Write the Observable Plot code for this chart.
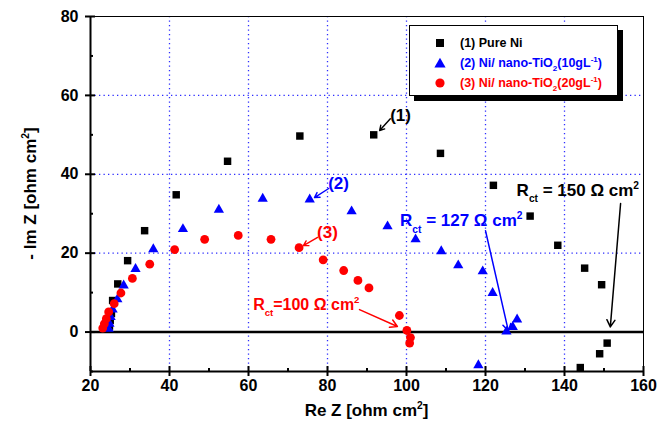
<!DOCTYPE html>
<html><head><meta charset="utf-8">
<script src="https://cdn.jsdelivr.net/npm/d3@7"></script>
<script src="https://cdn.jsdelivr.net/npm/@observablehq/plot@0.6"></script>
<style>
html,body{margin:0;padding:0;background:#fff;}
body{font-family:"Liberation Sans",Arial,sans-serif;}
#wrap{position:relative;width:667px;height:426px;overflow:hidden;}
#legend{position:absolute;left:409px;top:25px;width:207px;height:69px;border:1.3px solid #000;background:#fff;box-shadow:5px 5px 0 #000;font-weight:bold;font-size:12.5px;}
#legend .row{position:absolute;left:0;height:16px;display:flex;align-items:center;white-space:nowrap;}
#legend svg{position:absolute;left:23px;top:0;}
#legend span{position:absolute;left:50px;top:0;line-height:16px;}
#legend sub,#legend sup{font-size:8px;line-height:0;}
</style>
</head><body>
<div id="wrap"></div>
<script>
// ---- data (Nyquist plots) ----
const pureNiRe = [24.8,25.0,25.3,25.6,26.9,29.4,33.7,41.7,54.7,73.0,91.7,108.6,122.0,131.3,138.3,145.1,149.4,150.8,148.9,144.0];
const pureNiIm = [1.5,3.0,4.7,8.0,12.2,18.1,25.7,34.8,43.3,49.7,50.0,45.3,37.2,29.4,22.0,16.2,12.0,-2.8,-5.5,-9.0];
const tio10Re = [24.6,24.8,25.1,25.6,26.8,28.4,31.4,35.9,43.4,52.5,63.6,75.5,86.1,95.2,102.3,108.8,113.1,119.3,121.8,128.0,126.9,125.3,118.2];
const tio10Im = [0.8,2.1,3.8,5.7,8.3,11.8,16.0,21.0,26.1,31.0,33.8,33.6,30.6,26.8,23.5,20.5,16.9,15.4,9.9,3.2,1.3,0.1,-8.4];
const tio20Re = [23.1,23.5,24.0,24.6,26.0,27.7,30.6,35.0,41.3,48.9,57.4,65.7,72.8,78.9,84.1,87.7,90.5,98.2,100.1,101.0,100.8];
const tio20Im = [1.0,2.1,3.4,5.1,7.2,9.9,13.6,17.2,20.9,23.5,24.5,23.5,21.4,18.3,15.6,13.1,11.2,4.2,0.4,-1.4,-2.8];

const seriesNames = ["(1) Pure Ni", "(2) Ni/ nano-TiO2(10gL-1)", "(3) Ni/ nano-TiO2(20gL-1)"];
const seriesColors = ["#000000", "#0000ff", "#ff0000"];

const xTicks = [20,40,60,80,100,120,140,160];
const xMinor = [30,50,70,90,110,130,150];
const yTicks = [0,20,40,60,80];
const yMinor = [-10,10,30,50,70];
const xGrid = [40,60,80,100,120,140];
const yGrid = [20,40,60];

// numbered curve labels and their arrows
const curveLabels = ["(1)","(2)","(3)"];
const curveLabelX = [98.5, 82.8, 80.0];
const curveLabelY = [54.9, 37.6, 25.2];
const curveArrowX1 = [95.9, 80.3, 77.5];
const curveArrowY1 = [54.1, 36.4, 24.0];
const curveArrowX2 = [93.2, 76.7, 73.9];
const curveArrowY2 = [51.1, 34.1, 21.9];

// Rct annotations (series order: 1, 2, 3)
const rctValues = ["150", "127", "100"];
const rctSep = [" = ", " = ", "="];
const rctTextX = [128.0, 98.5, 61.3];
const rctTextY = [34.4, 26.7, 5.5];
const rctArrowX1 = [154.2, 120.0, 88.1];
const rctArrowY1 = [32.6, 25.7, 5.7];
const rctArrowX2 = [151.6, 125.8, 97.7];
const rctArrowY2 = [1.3, 0.25, 1.4];

const toRows = (xs, ys) => xs.map((x, i) => ({x, y: ys[i]}));
const black = toRows(pureNiRe, pureNiIm);
const blue = toRows(tio10Re, tio10Im);
const red = toRows(tio20Re, tio20Im);
const curveArrows = curveLabels.map((t, i) => ({x1: curveArrowX1[i], y1: curveArrowY1[i], x2: curveArrowX2[i], y2: curveArrowY2[i], c: seriesColors[i]}));
const rctArrows = rctValues.map((t, i) => ({x1: rctArrowX1[i], y1: rctArrowY1[i], x2: rctArrowX2[i], y2: rctArrowY2[i], c: seriesColors[i]}));
const curveLabelRows = curveLabels.map((t, i) => ({t, x: curveLabelX[i], y: curveLabelY[i], c: seriesColors[i]}));

const gridStyle = {stroke: "#2d2dff", strokeDasharray: "1.3,3.2", strokeWidth: 1.3};
const noText = () => "";

const plot = Plot.plot({
  width: 667, height: 426,
  marginLeft: 90, marginRight: 24, marginTop: 16, marginBottom: 55,
  x: {domain: [20, 160]},
  y: {domain: [-10, 80]},
  style: {fontFamily: "'Liberation Sans', Arial, sans-serif", fontSize: "16px", fontWeight: "bold", background: "white", overflow: "visible", color: "black"},
  marks: [
    Plot.ruleX(xGrid, gridStyle),
    Plot.ruleY(yGrid, gridStyle),
    Plot.frame({stroke: "#000", strokeWidth: 1}),
    Plot.ruleY([0], {stroke: "#000", strokeWidth: 2.4}),
    Plot.ruleX([20], {stroke: "#000", strokeWidth: 2}),
    Plot.ruleY([-10], {stroke: "#000", strokeWidth: 2}),
    Plot.axisX({ticks: xTicks, tickSize: 5, tickPadding: 3, strokeWidth: 2, label: null, tickFormat: d => String(d)}),
    Plot.axisX({ticks: xTicks, tickSize: 5, dy: -5, strokeWidth: 2, label: null, tickFormat: noText}),
    Plot.axisX({ticks: xMinor, tickSize: 3, dy: -3, strokeWidth: 2, label: null, tickFormat: noText}),
    Plot.axisY({ticks: yTicks, tickSize: 5, tickPadding: 7, strokeWidth: 2, label: null, tickFormat: d => String(d)}),
    Plot.axisY({ticks: yTicks, tickSize: 5, dx: 5, strokeWidth: 2, label: null, tickFormat: noText}),
    Plot.axisY({ticks: yMinor, tickSize: 3, dx: 3, strokeWidth: 2, label: null, tickFormat: noText}),
    Plot.arrow(curveArrows, {x1: "x1", y1: "y1", x2: "x2", y2: "y2", stroke: "c", strokeWidth: 1.4, headLength: 6}),
    Plot.arrow(rctArrows, {x1: "x1", y1: "y1", x2: "x2", y2: "y2", stroke: "c", strokeWidth: 1.5, headLength: 8}),
    Plot.dot(black, {x: "x", y: "y", symbol: "square", fill: seriesColors[0], r: 4.2}),
    Plot.dot(blue, {x: "x", y: "y", symbol: "triangle", fill: seriesColors[1], r: 3.8}),
    Plot.dot(red, {x: "x", y: "y", symbol: "circle", fill: seriesColors[2], r: 4.4}),
    Plot.text(curveLabelRows, {x: "x", y: "y", text: "t", fill: "c", fontSize: 17, fontWeight: "bold"})
  ]
});

document.getElementById("wrap").appendChild(plot);

// rich text with sub/superscripts drawn in the plot's coordinate space
const svg = d3.select(plot);
const sx = plot.scale("x"), sy = plot.scale("y");
function richText(x, y, parts, {size = 16, color = "#000", anchor = "start", rotate = 0} = {}) {
  const t = svg.append("text").attr("x", x).attr("y", y).attr("fill", color)
    .attr("font-size", size).attr("font-weight", "bold").attr("text-anchor", anchor)
    .attr("font-family", "'Liberation Sans', Arial, sans-serif");
  if (rotate) t.attr("transform", `rotate(${rotate},${x},${y})`);
  let shift = 0;
  for (const [s, kind] of parts) {
    const target = kind === "sub" ? size * 0.38 : kind === "sup" ? -size * 0.42 : 0;
    const ts = t.append("tspan").attr("dy", target - shift).text(s);
    if (kind) ts.attr("font-size", size * 0.6);
    shift = target;
  }
  return t;
}
const rctSizes = [17, 17, 16];
rctValues.forEach((v, i) => {
  richText(sx.apply(rctTextX[i]), sy.apply(rctTextY[i]),
    [["R"], ["ct", "sub"], [rctSep[i] + v + " \u03A9 cm"], ["2", "sup"]],
    {size: rctSizes[i], color: seriesColors[i]});
});
const [xr0, xr1] = sx.range, [yr0, yr1] = sy.range;
richText((xr0 + xr1) / 2, 416, [["Re Z [ohm cm"], ["2", "sup"], ["]"]], {size: 17, anchor: "middle"});
richText(36, (yr0 + yr1) / 2, [["- Im Z [ohm cm"], ["2", "sup"], ["]"]], {size: 17, anchor: "middle", rotate: -90});

// legend
const legend = document.createElement("div");
legend.id = "legend";
const symbols = [
  '<rect x="-4" y="-4" width="8" height="8"/>',
  '<path d="M0,-5.2L5.6,4.4L-5.6,4.4Z"/>',
  '<circle r="4.6"/>'
];
const labelsHtml = [
  "(1) Pure Ni",
  "(2) Ni/ nano-TiO<sub>2</sub>(10gL<sup>-1</sup>)",
  "(3) Ni/ nano-TiO<sub>2</sub>(20gL<sup>-1</sup>)"
];
seriesNames.forEach((n, i) => {
  const row = document.createElement("div");
  row.className = "row";
  row.style.top = (9 + i * 20) + "px";
  row.innerHTML = `<svg width="14" height="16" viewBox="-7 -8 14 16" style="fill:${seriesColors[i]}">${symbols[i]}</svg><span style="color:${seriesColors[i]}">${labelsHtml[i]}</span>`;
  legend.appendChild(row);
});
document.getElementById("wrap").appendChild(legend);
</script>
</body></html>
